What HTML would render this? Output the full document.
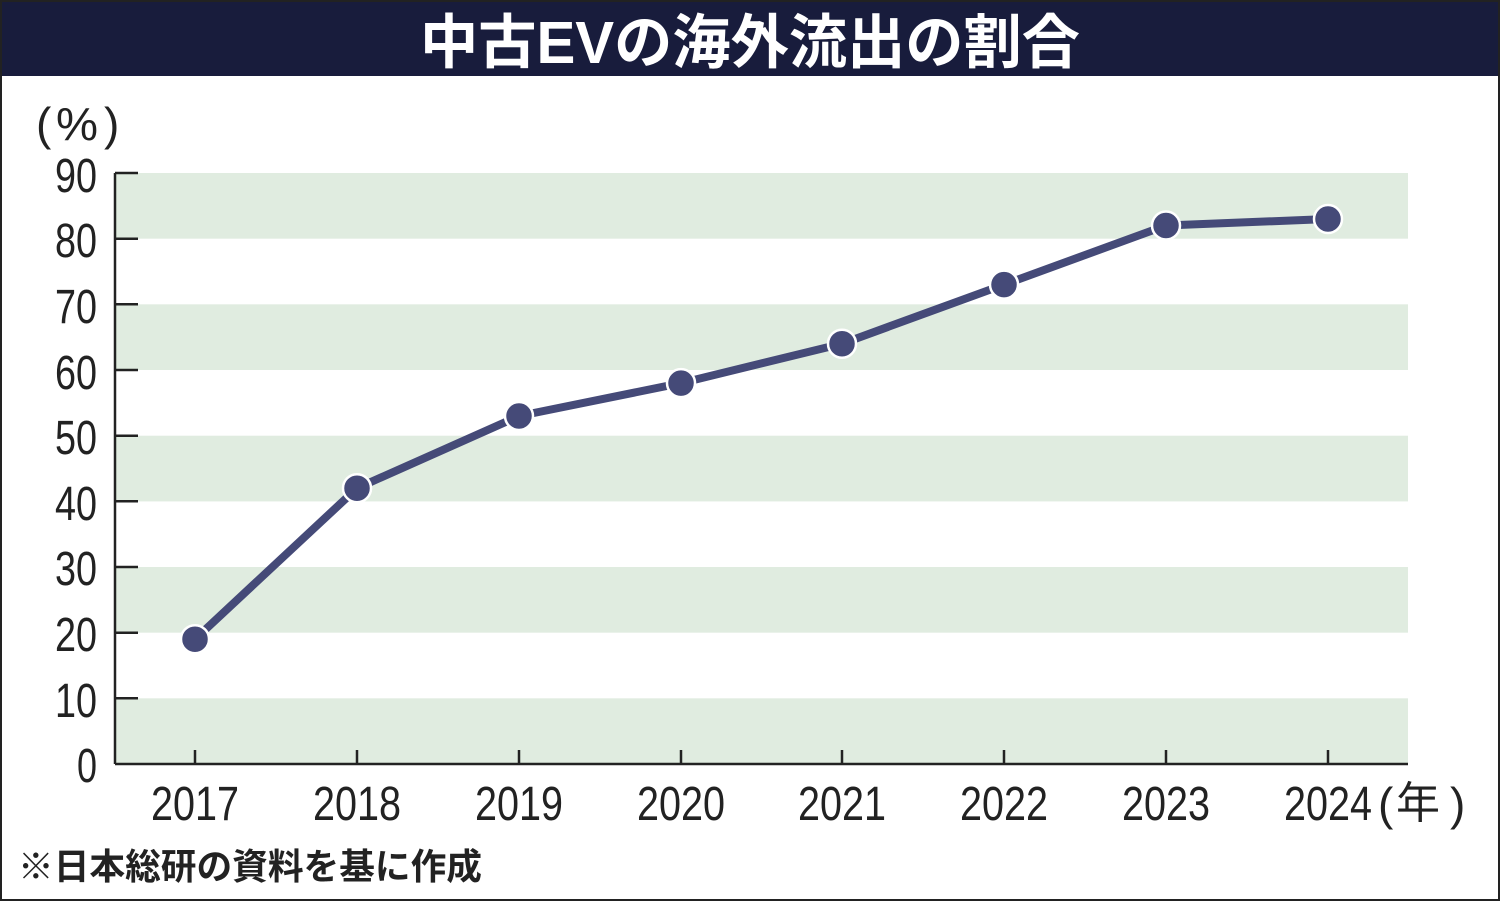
<!DOCTYPE html>
<html><head><meta charset="utf-8"><style>
body{margin:0;background:#fff}
svg{display:block}
</style></head><body>
<svg width="1500" height="901" viewBox="0 0 1500 901" xmlns="http://www.w3.org/2000/svg">
<rect x="0" y="0" width="1500" height="901" fill="#fff"/>
<rect x="0" y="0" width="1500" height="76" fill="#181c3c"/>
<text x="750" y="63" text-anchor="middle" fill="#fff" font-family="'Liberation Sans','Noto Sans CJK JP',sans-serif" font-weight="bold" font-size="59" textLength="660" lengthAdjust="spacingAndGlyphs">中古EVの海外流出の割合</text>
<rect x="1" y="1" width="1498" height="899" fill="none" stroke="#222" stroke-width="2"/>
<g fill="#e0ece0">
<rect x="115" y="173" width="1293" height="65.7"/>
<rect x="115" y="304.3" width="1293" height="65.7"/>
<rect x="115" y="435.7" width="1293" height="65.7"/>
<rect x="115" y="567" width="1293" height="65.7"/>
<rect x="115" y="698.3" width="1293" height="65.7"/>
</g>
<g stroke="#222" stroke-width="2.5">
<line x1="115" y1="173" x2="115" y2="764"/>
<line x1="115" y1="764" x2="1408" y2="764"/>
<line x1="115" y1="173" x2="138" y2="173"/><line x1="115" y1="238.7" x2="138" y2="238.7"/>
<line x1="115" y1="304.3" x2="138" y2="304.3"/><line x1="115" y1="370" x2="138" y2="370"/>
<line x1="115" y1="435.7" x2="138" y2="435.7"/><line x1="115" y1="501.3" x2="138" y2="501.3"/>
<line x1="115" y1="567" x2="138" y2="567"/><line x1="115" y1="632.7" x2="138" y2="632.7"/>
<line x1="115" y1="698.3" x2="138" y2="698.3"/>
<line x1="195" y1="750" x2="195" y2="764"/><line x1="357" y1="750" x2="357" y2="764"/>
<line x1="519" y1="750" x2="519" y2="764"/><line x1="681" y1="750" x2="681" y2="764"/>
<line x1="842" y1="750" x2="842" y2="764"/><line x1="1004" y1="750" x2="1004" y2="764"/>
<line x1="1166" y1="750" x2="1166" y2="764"/><line x1="1328" y1="750" x2="1328" y2="764"/>
</g>
<g font-family="'Liberation Sans',sans-serif" font-size="48" fill="#222">
<text x="55" y="192" textLength="42" lengthAdjust="spacingAndGlyphs">90</text>
<text x="55" y="257" textLength="42" lengthAdjust="spacingAndGlyphs">80</text>
<text x="55" y="323" textLength="42" lengthAdjust="spacingAndGlyphs">70</text>
<text x="55" y="389" textLength="42" lengthAdjust="spacingAndGlyphs">60</text>
<text x="55" y="454" textLength="42" lengthAdjust="spacingAndGlyphs">50</text>
<text x="55" y="520" textLength="42" lengthAdjust="spacingAndGlyphs">40</text>
<text x="55" y="585" textLength="42" lengthAdjust="spacingAndGlyphs">30</text>
<text x="55" y="651" textLength="42" lengthAdjust="spacingAndGlyphs">20</text>
<text x="55" y="717" textLength="42" lengthAdjust="spacingAndGlyphs">10</text>
<text x="77" y="782" textLength="20" lengthAdjust="spacingAndGlyphs">0</text>
</g>
<g font-family="'Liberation Sans',sans-serif" font-size="46" fill="#222">
<text x="36" y="140">(</text>
<text x="56" y="140" textLength="42" lengthAdjust="spacingAndGlyphs">%</text>
<text x="104" y="140">)</text>
<text x="1378" y="820">(</text>
<text x="1450" y="820">)</text>
</g>
<text x="1396" y="818" font-family="'Liberation Sans','Noto Sans CJK JP',sans-serif" font-size="44" fill="#222">年</text>
<g font-family="'Liberation Sans',sans-serif" font-size="48" fill="#222">
<text x="151" y="820" textLength="88" lengthAdjust="spacingAndGlyphs">2017</text>
<text x="313" y="820" textLength="88" lengthAdjust="spacingAndGlyphs">2018</text>
<text x="475" y="820" textLength="88" lengthAdjust="spacingAndGlyphs">2019</text>
<text x="637" y="820" textLength="88" lengthAdjust="spacingAndGlyphs">2020</text>
<text x="798" y="820" textLength="88" lengthAdjust="spacingAndGlyphs">2021</text>
<text x="960" y="820" textLength="88" lengthAdjust="spacingAndGlyphs">2022</text>
<text x="1122" y="820" textLength="88" lengthAdjust="spacingAndGlyphs">2023</text>
<text x="1284" y="820" textLength="88" lengthAdjust="spacingAndGlyphs">2024</text>
</g>
<text x="18" y="879" font-family="'Liberation Sans','Noto Sans CJK JP',sans-serif" font-size="36" font-weight="bold" fill="#222" textLength="464" lengthAdjust="spacingAndGlyphs">※日本総研の資料を基に作成</text>
<polyline fill="none" stroke="#454a78" stroke-width="8" stroke-linejoin="round"
points="195,639.2 357,488.2 519,416 681,383.1 842,343.7 1004,284.6 1166,225.5 1328,219"/>
<g fill="#454a78" stroke="#fff" stroke-width="2.5">
<circle cx="195" cy="639.2" r="14"/><circle cx="357" cy="488.2" r="14"/>
<circle cx="519" cy="416" r="14"/><circle cx="681" cy="383.1" r="14"/>
<circle cx="842" cy="343.7" r="14"/><circle cx="1004" cy="284.6" r="14"/>
<circle cx="1166" cy="225.5" r="14"/><circle cx="1328" cy="219" r="14"/>
</g>
</svg>
</body></html>
